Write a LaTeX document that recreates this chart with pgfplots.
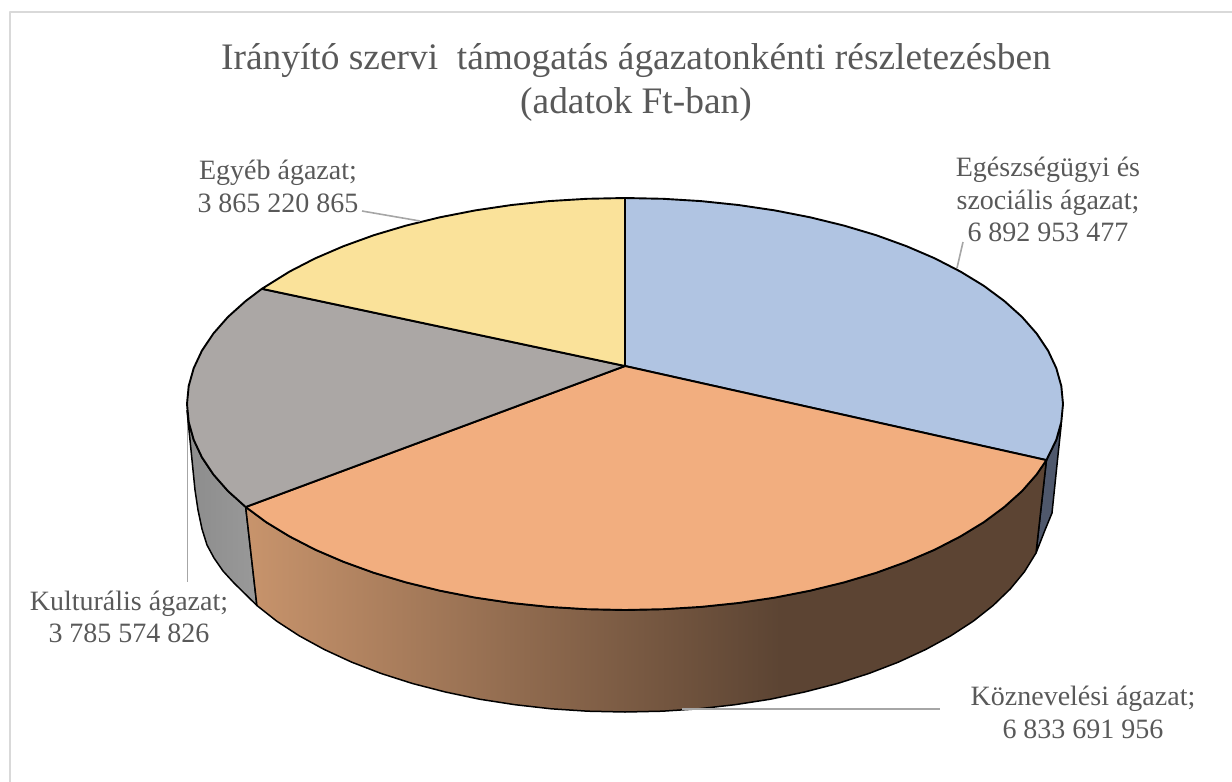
\documentclass[border=0pt]{standalone}
\usepackage{pgfplots}
\pgfplotsset{compat=1.18}
\usepackage{fontspec}
\setmainfont{Liberation Serif}
\definecolor{txt}{HTML}{595959}
\definecolor{frameg}{HTML}{D9D9D9}
\definecolor{leader}{HTML}{A6A6A6}
\definecolor{cblue}{HTML}{B0C4E2}
\definecolor{corange}{HTML}{F2AE7F}
\definecolor{cgray}{HTML}{ABA7A5}
\definecolor{cyellow}{HTML}{FAE29A}
\definecolor{sblue}{HTML}{4F586C}
\pgfdeclarehorizontalshading{brownside}{100bp}{
  rgb(0bp)=(.784,.58,.424);
  rgb(25bp)=(.784,.58,.424);
  rgb(58.4bp)=(.36,.267,.2);
  rgb(100bp)=(.36,.267,.2)}
\tikzset{lab/.style={anchor=base,text=txt,font=\fontsize{28}{30}\selectfont,inner sep=0pt},
  ttl/.style={anchor=base,text=txt,font=\fontsize{37.4}{40}\selectfont,inner sep=0pt}}
\begin{document}
\begin{tikzpicture}
\path (0,0) rectangle (1232pt,782pt);
\begin{axis}[hide axis,scale only axis,width=1232pt,height=782pt,
  xmin=0,xmax=1232,ymin=0,ymax=782,y dir=reverse,clip=true,
  every axis plot/.append style={no markers,line join=round}]
% chart frame
\addplot[frameg,line width=2pt] coordinates {(10,782)(10,12)(1232,12)};
% leader lines
\addplot[leader,line width=1.6pt] coordinates {(187.5,420)(187.5,582)};
% side: grey
\addplot[draw=black,line width=1.5pt,left color=black!45,right color=black!40] coordinates {
(187,410)(189,430)(192,460)(195,490)(198,510)(202,529)(207,545)(214,558)(223,571)(234,583)(256.9,605.5)(245.7,507)(228,491.1)(213.4,474.5)(201.9,457.3)(193.7,439.8)(188.7,422)(187,410)};
% side: blue
\addplot[draw=black,fill=sblue,line width=1.5pt] coordinates {
(1046.4,460.1)(1056.3,439.8)(1061.3,424)(1058,455)(1052,513)(1045,530)(1036,553)(1046.4,460.1)};
% side: orange
\addplot[draw=black,line width=1.5pt,shading=brownside] coordinates {
(1046.4,460.1)(1036.6,474.5)(1022,491.1)(1004.3,507)(983.8,522.2)(960.5,536.4)(934.7,549.7)(906.5,561.8)(876.2,572.8)(844,582.4)(810.1,590.7)(774.8,597.6)(738.4,603)(701,606.9)(663.2,609.2)(625,610)(586.8,609.2)(549,606.9)(511.6,603)(475.2,597.6)(439.9,590.7)(406,582.4)(373.8,572.8)(343.5,561.8)(315.3,549.7)(289.5,536.4)(266.2,522.2)(245.7,507)
(256.9,605.5)(276.8,621.2)(299.4,635.9)(324.5,649.6)(351.8,662.2)(381.2,673.5)(412.5,683.5)(445.4,692)(479.6,699.2)(515,704.7)(551.2,708.8)(587.9,711.2)(625,712)(662.1,711.2)(698.8,708.8)(735,704.7)(770.4,699.2)(804.6,692)(837.5,683.5)(868.8,673.5)(898.2,662.2)(925.5,649.6)(950.6,635.9)(973.2,621.2)(993.1,605.5)(1010.2,589)(1024.4,571.8)(1036,553)(1046.4,460.1)};
% top: blue (6 892 953 477)
\addplot[draw=black,fill=cblue,line width=1.9pt] coordinates {
(625,366)(625,198)(663.2,198.8)(701,201.1)(738.4,205)(774.8,210.4)(810.1,217.3)(844,225.6)(876.2,235.2)(906.5,246.2)(934.7,258.3)(960.5,271.6)(983.8,285.8)(1004.3,301)(1022,316.9)(1036.6,333.5)(1048.1,350.7)(1056.3,368.2)(1061.3,386)(1063,404)(1061.3,422)(1056.3,439.8)(1046.4,460.1)(625,366)};
% top: orange (6 833 691 956)
\addplot[draw=black,fill=corange,line width=1.9pt] coordinates {
(625,366)(1046.4,460.1)(1036.6,474.5)(1022,491.1)(1004.3,507)(983.8,522.2)(960.5,536.4)(934.7,549.7)(906.5,561.8)(876.2,572.8)(844,582.4)(810.1,590.7)(774.8,597.6)(738.4,603)(701,606.9)(663.2,609.2)(625,610)(586.8,609.2)(549,606.9)(511.6,603)(475.2,597.6)(439.9,590.7)(406,582.4)(373.8,572.8)(343.5,561.8)(315.3,549.7)(289.5,536.4)(266.2,522.2)(245.7,507)(625,366)};
% top: grey (3 785 574 826)
\addplot[draw=black,fill=cgray,line width=1.9pt] coordinates {
(625,366)(245.7,507)(228,491.1)(213.4,474.5)(201.9,457.3)(193.7,439.8)(188.7,422)(187,404)(188.7,386)(193.7,368.2)(201.9,350.7)(213.4,333.5)(228,316.9)(245.7,301)(261.9,288.8)(625,366)};
% top: yellow (3 865 220 865)
\addplot[draw=black,fill=cyellow,line width=1.9pt] coordinates {
(625,366)(261.9,288.8)(289.5,271.6)(315.3,258.3)(343.5,246.2)(373.8,235.2)(406,225.6)(439.9,217.3)(475.2,210.4)(511.6,205)(549,201.1)(586.8,198.8)(625,198)(625,366)};
% remaining leader lines
\addplot[leader,line width=1.6pt] coordinates {(362,211)(420,221)};
\addplot[leader,line width=1.6pt] coordinates {(957,268)(963,242)};
\addplot[leader,line width=1.6pt] coordinates {(682,709)(940,709)};
% texts
\node[ttl] at (axis cs:636,69) {Irányító szervi\ \ támogatás ágazatonkénti részletezésben};
\node[ttl] at (axis cs:636,113) {(adatok Ft-ban)};
\node[lab] at (axis cs:278,179) {Egyéb ágazat;};
\node[lab] at (axis cs:278,212) {3 865 220 865};
\node[lab] at (axis cs:1048,176) {Egészségügyi és};
\node[lab] at (axis cs:1048,209) {szociális ágazat;};
\node[lab] at (axis cs:1048,241) {6 892 953 477};
\node[lab] at (axis cs:129,610) {Kulturális ágazat;};
\node[lab] at (axis cs:129,642) {3 785 574 826};
\node[lab] at (axis cs:1083,705) {Köznevelési ágazat;};
\node[lab] at (axis cs:1083,738) {6 833 691 956};
\end{axis}
\end{tikzpicture}
\end{document}
